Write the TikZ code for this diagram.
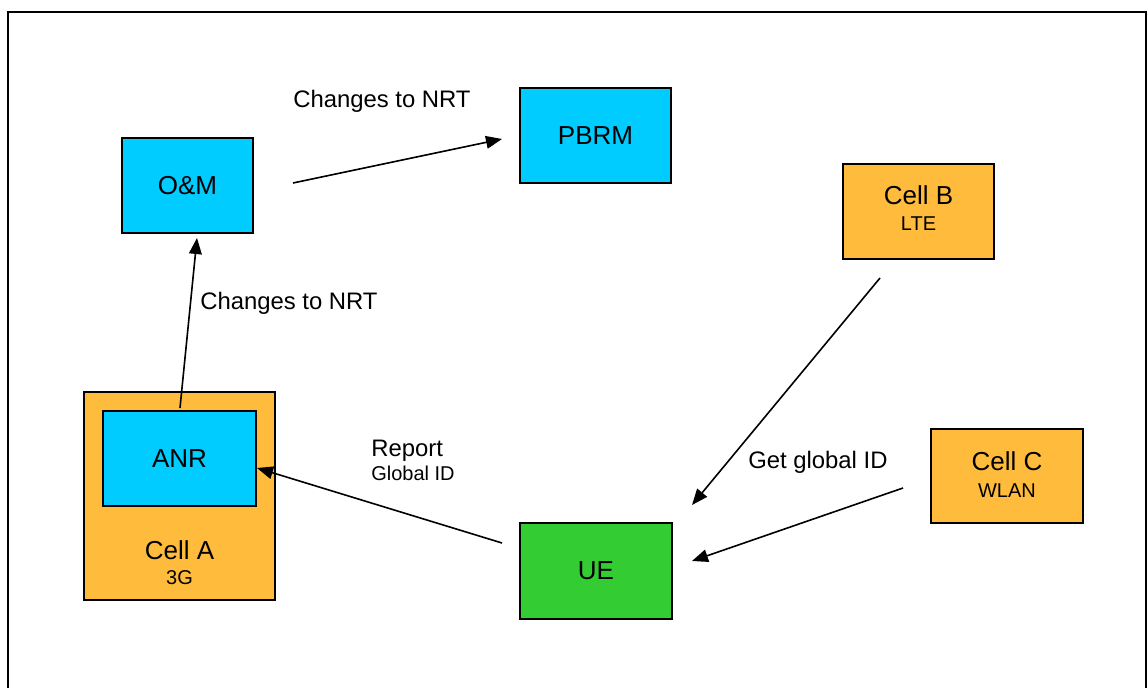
\documentclass[tikz,border=0pt]{standalone}
\usepackage{fontspec}
\setmainfont{Liberation Sans}
\usetikzlibrary{arrows.meta,calc}
\definecolor{boxblue}{RGB}{0,204,255}
\definecolor{boxorange}{RGB}{255,187,60}
\definecolor{boxgreen}{RGB}{51,204,51}
\tikzset{
  box/.style={draw=black, line width=1.5pt, inner sep=0pt, minimum width=113.25pt, minimum height=71.25pt, align=center, font=\fontsize{19.5}{22}\selectfont},
  sub/.style={font=\fontsize{15}{17}\selectfont},
  conn/.style={line width=1.2pt, -{Triangle[length=12pt,width=9.5pt]}},
  elabel/.style={inner sep=0pt, font=\fontsize{17.9}{20}\selectfont},
  slabel/.style={inner sep=0pt, font=\fontsize{15}{17}\selectfont}
}
\begin{document}
\begin{tikzpicture}[x=0.75pt,y=-0.75pt]
\useasboundingbox (0,0) rectangle (1147,688);
% frame
\draw[line width=1.5pt] (8,700) -- (8,12) -- (1146,12) -- (1146,700);
% boxes
\node[box, fill=boxblue, minimum width=98.25pt] (om) at (187.5,185.5) {O\&M};
\node[box, fill=boxblue] (pbrm) at (595.5,135.5) {PBRM};
\node[box, fill=boxorange] (cellB) at (918.5,211.5) {};
\node[inner sep=0pt, anchor=base, font=\fontsize{19.5}{22}\selectfont] (cellBt) at (918.5,204.5) {Cell B};
\node[inner sep=0pt, anchor=base, sub] (cellBs) at (918.5,231) {LTE};
\node[box, fill=boxorange, minimum width=114pt, minimum height=70.5pt] (cellC) at (1007,476) {};
\node[inner sep=0pt, anchor=base, font=\fontsize{19.5}{22}\selectfont] (cellCt) at (1007,470.3) {Cell C};
\node[inner sep=0pt, anchor=base, sub] (cellCs) at (1007,497) {WLAN};
\node[box, fill=boxorange, minimum width=143.25pt, minimum height=156pt] (cellA) at (179.5,496) {};
\node[inner sep=0pt, anchor=base, font=\fontsize{19.5}{22}\selectfont] (cellAt) at (179.5,559.3) {Cell A};
\node[inner sep=0pt, anchor=base, sub] (cellAs) at (179.5,584) {3G};
\node[box, fill=boxblue, minimum width=114.75pt] (anr) at (179.5,458.5) {ANR};
\node[box, fill=boxgreen, minimum width=114pt, minimum height=72pt] (ue) at (596,571) {UE};
% connector end points
\coordinate (omOut) at (293,183);
\coordinate (pbrmIn) at (502,139);
\coordinate (anrOut) at (180,408);
\coordinate (omIn) at (197,238);
\coordinate (ueOut) at (502,543);
\coordinate (anrIn) at (257,468);
\coordinate (cellBOut) at (880,278);
\coordinate (ueInB) at (692,505);
\coordinate (cellCOut) at (903,488);
\coordinate (ueInC) at (692,561);
% connectors
\draw[conn] (omOut) -- (pbrmIn);
\draw[conn] (anrOut) -- (omIn);
\draw[conn] (ueOut) -- (anrIn);
\draw[conn] (cellBOut) -- (ueInB);
\draw[conn] (cellCOut) -- (ueInC);
% labels
\node[elabel, anchor=base west] (l1) at (293,108) {Changes to NRT};
\node[elabel, anchor=base west] (l2) at (200,310) {Changes to NRT};
\node[elabel, anchor=base west] (l3) at (371,456) {Report};
\node[slabel, anchor=base west] (l4) at (371,480) {Global ID};
\node[elabel, anchor=base west] (l5) at (748,468) {Get global ID};
\end{tikzpicture}
\end{document}
